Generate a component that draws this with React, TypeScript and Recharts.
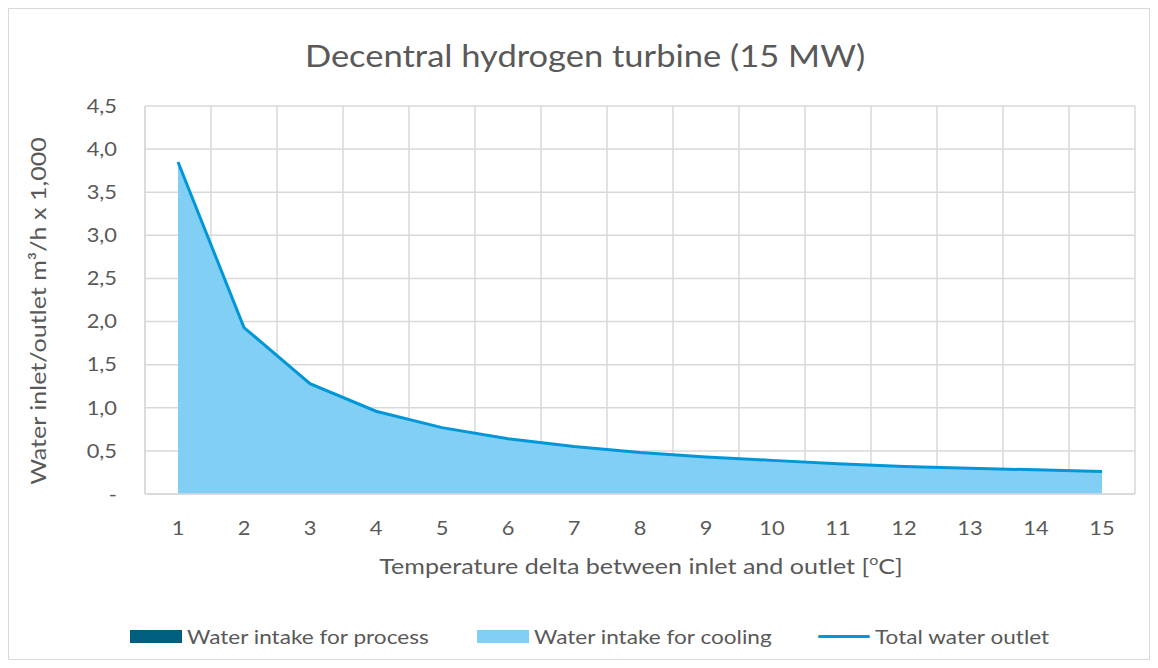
import React from 'react';
import { ComposedChart, Area, Line, XAxis, YAxis, CartesianGrid } from 'recharts';

const deltaT = [1, 2, 3, 4, 5, 6, 7, 8, 9, 10, 11, 12, 13, 14, 15];
const processIntake = [0, 0, 0, 0, 0, 0, 0, 0, 0, 0, 0, 0, 0, 0, 0];
const coolingIntake = [3.85, 1.93, 1.28, 0.96, 0.77, 0.64, 0.55, 0.48, 0.43, 0.39, 0.35, 0.32, 0.3, 0.28, 0.26];
const totalOutlet = [3.85, 1.93, 1.28, 0.96, 0.77, 0.64, 0.55, 0.48, 0.43, 0.39, 0.35, 0.32, 0.3, 0.28, 0.26];
const yTicks = [0, 0.5, 1, 1.5, 2, 2.5, 3, 3.5, 4, 4.5];
const gridTicks = [0.5, 1.5, 2.5, 3.5, 4.5, 5.5, 6.5, 7.5, 8.5, 9.5, 10.5, 11.5, 12.5, 13.5, 14.5, 15.5];

const data = deltaT.map((d, i) => ({
  x: d,
  process: processIntake[i],
  cooling: coolingIntake[i],
  total: totalOutlet[i],
}));

const FONT = 'Lato, "Open Sans", sans-serif';
const TXT = '#595959';
const GRID = '#d9d9d9';
const C_PROCESS = '#005f7f';
const C_COOL = '#82cff5';
const C_TOTAL = '#0097d8';
const STRETCH = 1.15;

const fmtY = (v: number) => (v === 0 ? '-' : v.toFixed(1).replace('.', ','));

const legendItems = [
  { label: 'Water intake for process', color: C_PROCESS, kind: 'box', left: 121 },
  { label: 'Water intake for cooling', color: C_COOL, kind: 'box', left: 468 },
  { label: 'Total water outlet', color: C_TOTAL, kind: 'line', left: 809 },
];

const makeTick = (dy: string, fmt?: (v: number) => string) => (props: any) => {
  const { x, y, payload, textAnchor } = props;
  const label = fmt ? fmt(payload.value) : String(payload.value);
  return (
    <text
      x={x}
      y={y}
      dy={dy}
      textAnchor={textAnchor}
      fill={TXT}
      fontSize={19}
      fontFamily={FONT}
      transform={`translate(${x} 0) scale(${STRETCH} 1) translate(${-x} 0)`}
    >
      {label}
    </text>
  );
};

const XTick = makeTick('0.71em');
const YTick = makeTick('0.355em', fmtY);

const stretched = (scale: number, origin = 'center'): React.CSSProperties => ({
  display: 'inline-block',
  transform: `scaleX(${scale})`,
  transformOrigin: origin,
});

export default function App() {
  return (
    <div
      style={{
        position: 'relative',
        width: 1142,
        height: 652,
        boxSizing: 'border-box',
        border: `1px solid ${GRID}`,
        background: '#fff',
        fontFamily: FONT,
      }}
    >
      <ComposedChart
        width={1140}
        height={650}
        data={data}
        margin={{ top: 97, right: 14, left: 76, bottom: 125 }}
      >
        <CartesianGrid stroke={GRID} strokeWidth={1.5} xAxisId="grid" horizontal={true} vertical={true} />
        <XAxis
          xAxisId="grid"
          type="number"
          dataKey="x"
          domain={[0.5, 15.5]}
          ticks={gridTicks}
          hide
        />
        <XAxis
          type="number"
          dataKey="x"
          domain={[0.5, 15.5]}
          ticks={deltaT}
          interval={0}
          height={40}
          tickLine={false}
          tickMargin={22}
          axisLine={{ stroke: GRID, strokeWidth: 1.5 }}
          tick={XTick}
        />
        <YAxis
          type="number"
          domain={[0, 4.5]}
          ticks={yTicks}
          interval={0}
          width={60}
          tickLine={false}
          tickMargin={22}
          tickFormatter={fmtY}
          axisLine={{ stroke: GRID, strokeWidth: 1.5 }}
          tick={YTick}
        />
        <Area
          type="linear"
          dataKey="process"
          stackId="intake"
          stroke="none"
          fill={C_PROCESS}
          fillOpacity={1}
          isAnimationActive={false}
        />
        <Area
          type="linear"
          dataKey="cooling"
          stackId="intake"
          stroke="none"
          fill={C_COOL}
          fillOpacity={1}
          isAnimationActive={false}
        />
        <Line
          type="linear"
          dataKey="total"
          stroke={C_TOTAL}
          strokeWidth={3}
          dot={false}
          activeDot={false}
          isAnimationActive={false}
        />
      </ComposedChart>

      <div
        style={{
          position: 'absolute',
          left: 576,
          top: 46,
          transform: 'translate(-50%, -50%)',
          whiteSpace: 'nowrap',
          fontSize: 30,
          color: TXT,
        }}
      >
        <span style={stretched(1.15)}>Decentral hydrogen turbine (15 MW)</span>
      </div>

      <div
        style={{
          position: 'absolute',
          left: 632,
          top: 556,
          transform: 'translate(-50%, -50%)',
          whiteSpace: 'nowrap',
          fontSize: 22,
          color: TXT,
        }}
      >
        <span style={stretched(1.14)}>
          Temperature delta between inlet and outlet [<sup style={{ fontSize: 14 }}>o</sup>C]
        </span>
      </div>

      <div
        style={{
          position: 'absolute',
          left: 28,
          top: 302,
          transform: 'translate(-50%, -50%) rotate(-90deg)',
          whiteSpace: 'nowrap',
          fontSize: 22,
          color: TXT,
        }}
      >
        <span style={stretched(1.14)}>Water inlet/outlet m³/h x 1,000</span>
      </div>

      {legendItems.map((it) => (
        <div
          key={it.label}
          style={{
            position: 'absolute',
            left: it.left,
            top: 627,
            transform: 'translateY(-50%)',
            display: 'flex',
            alignItems: 'center',
            whiteSpace: 'nowrap',
            fontSize: 20,
            color: TXT,
          }}
        >
          <span
            style={{
              display: 'inline-block',
              width: 52,
              height: it.kind === 'box' ? 13 : 3,
              background: it.color,
              borderRadius: it.kind === 'line' ? 2 : 0,
              marginRight: 5,
            }}
          />
          <span style={stretched(1.13, 'left center')}>{it.label}</span>
        </div>
      ))}
    </div>
  );
}
